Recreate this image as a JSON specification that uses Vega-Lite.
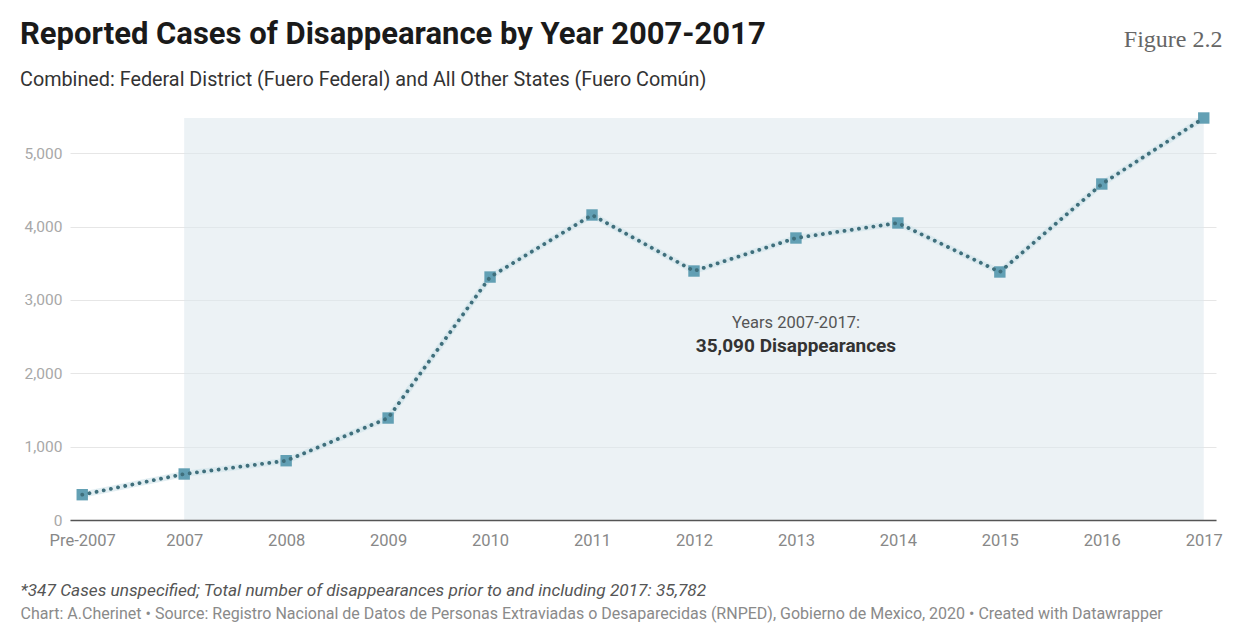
{
  "$schema": "https://vega.github.io/schema/vega-lite/v6.json",
  "width": 1146,
  "height": 402,
  "autosize": {"type": "none"},
  "padding": {"left": 70, "top": 118, "right": 25, "bottom": 106},
  "background": "white",
  "config": {"view": {"stroke": null}},
  "title": {
    "text": "Reported Cases of Disappearance by Year 2007-2017",
    "subtitle": "Combined: Federal District (Fuero Federal) and All Other States (Fuero Común)",
    "anchor": "start",
    "frame": "bounds",
    "font": "Roboto",
    "fontSize": 31,
    "fontWeight": "bold",
    "color": "#1a1a1a",
    "subtitleFont": "Roboto",
    "subtitleFontSize": 19.8,
    "subtitleColor": "#333333",
    "subtitlePadding": 19,
    "offset": -64
  },
  "datasets": {
    "cases": [
      {"year": "Pre-2007", "cases": 345},
      {"year": "2007", "cases": 627},
      {"year": "2008", "cases": 808},
      {"year": "2009", "cases": 1390},
      {"year": "2010", "cases": 3312},
      {"year": "2011", "cases": 4158},
      {"year": "2012", "cases": 3394},
      {"year": "2013", "cases": 3844},
      {"year": "2014", "cases": 4049},
      {"year": "2015", "cases": 3381},
      {"year": "2016", "cases": 4580},
      {"year": "2017", "cases": 5480}
    ],
    "range": [{"from": "2007", "to": "2017", "low": 0, "high": 5480}],
    "noteTop": [{"year": "2013", "value": 2680, "label": "Years 2007-2017:"}],
    "noteBottom": [{"year": "2013", "value": 2372, "label": "35,090 Disappearances"}]
  },
  "layer": [
    {
      "data": {"name": "range"},
      "mark": {"type": "rect", "fill": "#dde8ed", "opacity": 0.55},
      "encoding": {
        "x": {
          "field": "from", "type": "nominal",
          "scale": {"type": "point", "domain": ["Pre-2007","2007","2008","2009","2010","2011","2012","2013","2014","2015","2016","2017"], "padding": 0.12}
        },
        "x2": {"field": "to"},
        "y": {
          "field": "low", "type": "quantitative",
          "scale": {"domain": [0, 5480], "nice": false},
          "axis": {
            "orient": "right",
            "labels": false, "ticks": false, "domain": false, "grid": false,
            "title": "Chart: A.Cherinet • Source: Registro Nacional de Datos de Personas Extraviadas o Desaparecidas (RNPED), Gobierno de Mexico, 2020 • Created with Datawrapper",
            "titleAngle": 0, "titleAlign": "left", "titleBaseline": "alphabetic",
            "titleX": -1196, "titleY": 500,
            "titleFont": "Roboto", "titleFontSize": 16, "titleFontWeight": "normal", "titleColor": "#8a8a8a"
          }
        },
        "y2": {"field": "high"}
      }
    },
    {
      "data": {"name": "cases"},
      "encoding": {
        "x": {
          "field": "year", "type": "nominal",
          "scale": {"type": "point", "domain": ["Pre-2007","2007","2008","2009","2010","2011","2012","2013","2014","2015","2016","2017"], "padding": 0.12},
          "axis": {
            "labelAngle": 0, "labelAlign": "center", "labelBaseline": "top",
            "labelFont": "Roboto", "labelFontSize": 16.5, "labelColor": "#888888", "labelPadding": 12,
            "ticks": false, "grid": false, "domainColor": "#555555", "domainWidth": 1.5,
            "title": "*347 Cases unspecified; Total number of disappearances prior to and including 2017: 35,782",
            "titleFont": "Roboto", "titleFontStyle": "italic", "titleFontSize": 17.25, "titleFontWeight": "normal", "titleColor": "#555555",
            "titleAnchor": "start", "titleAlign": "left", "titleBaseline": "alphabetic",
            "titleX": -50, "titleY": 75
          }
        },
        "y": {
          "field": "cases", "type": "quantitative",
          "scale": {"domain": [0, 5480], "nice": false},
          "axis": {
            "orient": "left",
            "values": [0, 1000, 2000, 3000, 4000, 5000],
            "labelFont": "Roboto", "labelFontSize": 15.5, "labelColor": "#a8a8a8", "labelPadding": 8,
            "ticks": false, "tickSize": 0, "domain": false, "grid": true, "gridColor": "#e6e6e6",
            "title": "Figure 2.2",
            "titleFont": "Liberation Serif", "titleFontSize": 24, "titleFontWeight": "normal", "titleColor": "#666666",
            "titleAngle": 0, "titleAlign": "right", "titleBaseline": "alphabetic",
            "titleX": 1152, "titleY": -72
          }
        }
      },
      "layer": [
        {"mark": {"type": "line", "color": "#cfe3ea", "strokeWidth": 6, "opacity": 0.6}},
        {"mark": {"type": "point", "shape": "square", "filled": true, "size": 130, "color": "#5b9bb0", "opacity": 0.95}},
        {"mark": {"type": "line", "color": "#3f6f7c", "strokeWidth": 3.8, "strokeCap": "round", "strokeDash": [0.1, 7.2]}},
        {
          "data": {"name": "noteTop"},
          "mark": {"type": "text", "font": "Roboto", "fontSize": 16.5, "color": "#555555", "align": "center", "baseline": "middle"},
          "encoding": {
            "x": {"field": "year", "type": "nominal"},
            "y": {"field": "value", "type": "quantitative"},
            "text": {"field": "label"}
          }
        },
        {
          "data": {"name": "noteBottom"},
          "mark": {"type": "text", "font": "Roboto", "fontSize": 19, "fontWeight": "bold", "color": "#333333", "align": "center", "baseline": "middle"},
          "encoding": {
            "x": {"field": "year", "type": "nominal"},
            "y": {"field": "value", "type": "quantitative"},
            "text": {"field": "label"}
          }
        }
      ]
    }
  ],
  "resolve": {"scale": {"y": "independent"}}
}
